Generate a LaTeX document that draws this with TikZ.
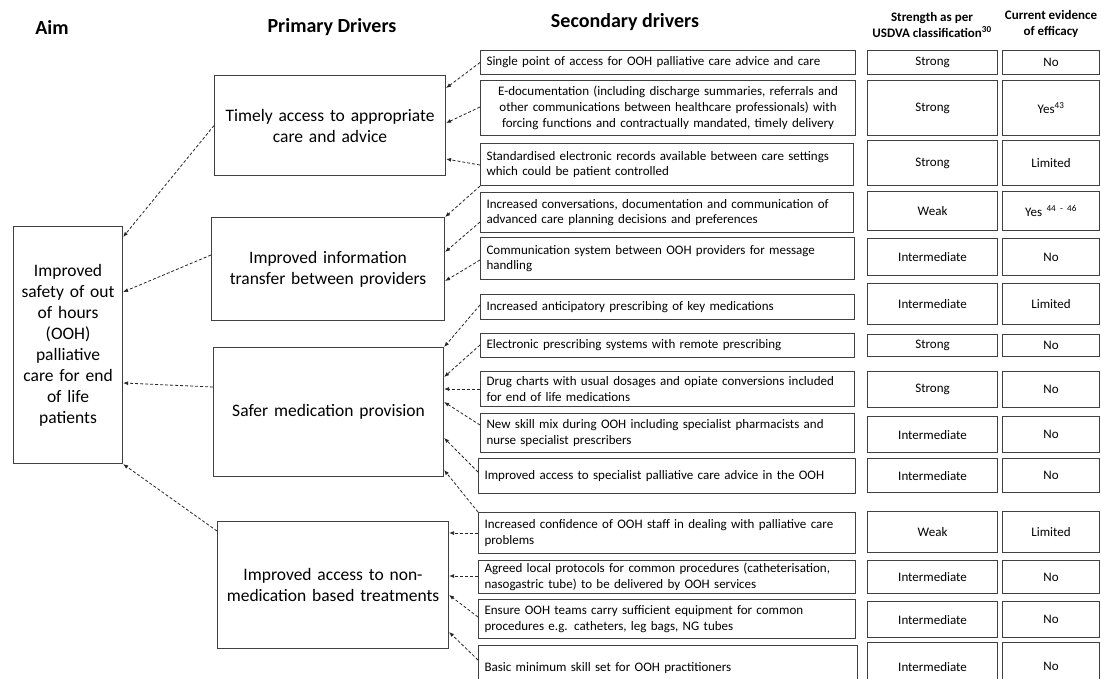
\documentclass[tikz,border=0pt]{standalone}
\usepackage{fontspec}
\setmainfont{Carlito}
\usetikzlibrary{arrows.meta}
\tikzset{
  bx/.style={draw=black!75, line width=1.1pt, rectangle, inner xsep=6pt, inner ysep=0pt, anchor=north west, font=\fontsize{13}{15.9}\selectfont},
  pbx/.style={bx, align=center, font=\fontsize{17.5}{21}\selectfont},
  sbx/.style={bx, align=left},
  cbx/.style={bx, align=center},
  hdr/.style={font=\fontsize{20}{24}\selectfont\bfseries, inner sep=0pt},
  shdr/.style={font=\fontsize{13}{15.5}\selectfont\bfseries, inner sep=0pt, align=center},
  conn/.style={draw=black!85, line width=0.8pt, dash pattern=on 3pt off 2pt, -{Latex[length=5pt,width=4pt]}},
}
\newcommand\mkbox[7]{%
  \pgfmathsetmacro\bw{#5-#3}%
  \pgfmathsetmacro\bh{#6-#4}%
  \pgfmathsetmacro\tw{#5-#3-12}%
  \node[#1, minimum width=\bw pt, minimum height=\bh pt, text width=\tw pt] (#2) at (#3,#4) {#7};}
\begin{document}
\begin{tikzpicture}[x=1pt,y=-1pt]
\useasboundingbox (0,0) rectangle (1101,678);
\clip (0,0) rectangle (1101,678);
% headers
\node[hdr] (hAim) at (52,27) {Aim};
\node[hdr] (hPri) at (332,27) {Primary Drivers};
\node[hdr] (hSec) at (625,22) {Secondary drivers};
\node[shdr] (hStr) at (932,25) {Strength as per\\USDVA classification\textsuperscript{30}};
\node[shdr] (hEv) at (1051,24) {Current evidence\\of efficacy};
% aim
\mkbox{pbx}{aim}{13}{226}{122}{463}{Improved\\safety of out\\of hours\\(OOH)\\palliative\\care for end\\of life\\patients}
% primary
\mkbox{pbx}{p1}{214}{75}{445}{175}{Timely access to appropriate\\care and advice}
\mkbox{pbx}{p2}{211}{217}{444}{320}{Improved information\\transfer between providers}
\mkbox{pbx}{p3}{213}{347}{443}{476}{Safer medication provision}
\mkbox{pbx}{p4}{217}{521}{448}{648}{Improved access to non-\\medication based treatments}
% secondary
\mkbox{sbx}{s1}{480}{50}{855}{74}{Single point of access for OOH palliative care advice and care}
\mkbox{cbx}{s2}{480}{80}{855}{135}{E-documentation (including discharge summaries, referrals and\\other communications between healthcare professionals) with\\forcing functions and contractually mandated, timely delivery}
\mkbox{sbx}{s3}{480}{143}{853}{185}{Standardised electronic records available between care settings\\which could be patient controlled}
\mkbox{sbx}{s4}{480}{192}{853}{232}{Increased conversations, documentation and communication of\\advanced care planning decisions and preferences}
\mkbox{sbx}{s5}{480}{237}{854}{279}{Communication system between OOH providers for message\\handling}
\mkbox{sbx}{s6}{480}{294}{854}{319}{Increased anticipatory prescribing of key medications}
\mkbox{sbx}{s7}{480}{333}{854}{357}{Electronic prescribing systems with remote prescribing}
\mkbox{sbx}{s8}{480}{371}{854}{406}{Drug charts with usual dosages and opiate conversions included\\for end of life medications}
\mkbox{sbx}{s9}{480}{413}{854}{452}{New skill mix during OOH including specialist pharmacists and\\nurse specialist prescribers}
\mkbox{sbx}{s10}{478}{458}{855}{493}{Improved access to specialist palliative care advice in the OOH}
\mkbox{sbx}{s11}{478}{512}{855}{553}{Increased confidence of OOH staff in dealing with palliative care\\problems}
\mkbox{sbx}{s12}{478}{560}{855}{593}{Agreed local protocols for common procedures (catheterisation,\\nasogastric tube) to be delivered by OOH services}
\mkbox{sbx}{s13}{478}{599}{855}{638}{Ensure OOH teams carry sufficient equipment for common\\procedures e.g. catheters, leg bags, NG tubes}
\mkbox{sbx}{s14}{478}{645}{857}{690}{Basic minimum skill set for OOH practitioners}
% strength
\mkbox{cbx}{r1}{867}{50}{997}{74}{Strong}
\mkbox{cbx}{r2}{867}{80}{997}{135}{Strong}
\mkbox{cbx}{r3}{867}{140}{997}{185}{Strong}
\mkbox{cbx}{r4}{867}{191}{997}{230}{Weak}
\mkbox{cbx}{r5}{867}{238}{997}{275}{Intermediate}
\mkbox{cbx}{r6}{867}{283}{997}{324}{Intermediate}
\mkbox{cbx}{r7}{867}{334}{997}{356}{Strong}
\mkbox{cbx}{r8}{867}{371}{997}{407}{Strong}
\mkbox{cbx}{r9}{867}{416}{997}{452}{Intermediate}
\mkbox{cbx}{r10}{867}{458}{997}{492}{Intermediate}
\mkbox{cbx}{r11}{867}{511}{997}{552}{Weak}
\mkbox{cbx}{r12}{867}{560}{997}{593}{Intermediate}
\mkbox{cbx}{r13}{867}{601}{997}{637}{Intermediate}
\mkbox{cbx}{r14}{867}{642}{997}{690}{Intermediate}
% evidence
\mkbox{cbx}{e1}{1002}{50}{1099}{74}{No}
\mkbox{cbx}{e2}{1002}{80}{1099}{135}{Yes\textsuperscript{43}}
\mkbox{cbx}{e3}{1002}{140}{1099}{185}{Limited}
\mkbox{cbx}{e4}{1002}{191}{1099}{230}{Yes \textsuperscript{44 - 46}}
\mkbox{cbx}{e5}{1002}{238}{1099}{275}{No}
\mkbox{cbx}{e6}{1002}{283}{1099}{324}{Limited}
\mkbox{cbx}{e7}{1002}{334}{1099}{356}{No}
\mkbox{cbx}{e8}{1002}{371}{1099}{407}{No}
\mkbox{cbx}{e9}{1002}{416}{1099}{452}{No}
\mkbox{cbx}{e10}{1002}{458}{1099}{492}{No}
\mkbox{cbx}{e11}{1002}{511}{1099}{552}{Limited}
\mkbox{cbx}{e12}{1002}{560}{1099}{593}{No}
\mkbox{cbx}{e13}{1002}{601}{1099}{637}{No}
\mkbox{cbx}{e14}{1002}{642}{1099}{690}{No}
% secondary -> primary
\draw[conn] (s1.west) -- (p1.east |- 0,88);
\draw[conn] (s2.west |- 0,107) -- (p1.east |- 0,123);
\draw[conn] (s3.west |- 0,165) -- (p1.east |- 0,159);
\draw[conn] (s3.south west) -- (p2.north east);
\draw[conn] (s4.west |- 0,222) -- (p2.east |- 0,252);
\draw[conn] (s5.west |- 0,260) -- (p2.east |- 0,281);
\draw[conn] (s6.west |- 0,305) -- (p3.north east);
\draw[conn] (s7.west |- 0,345) -- (p3.east |- 0,377);
\draw[conn] (s8.west |- 0,389) -- (p3.east |- 0,389);
\draw[conn] (s9.west |- 0,425) -- (p3.east |- 0,402);
\draw[conn] (s10.west |- 0,472) -- (p3.east |- 0,438);
\draw[conn] (s11.north west) -- (p3.east |- 0,470);
\draw[conn] (s11.west |- 0,533) -- (p4.east |- 0,533);
\draw[conn] (s12.west |- 0,576) -- (p4.east |- 0,576);
\draw[conn] (s13.west |- 0,617) -- (p4.east |- 0,595);
\draw[conn] (s14.west |- 0,660) -- (p4.east |- 0,632);
% primary -> aim
\draw[conn] (p1.west) -- (aim.east |- 0,237);
\draw[conn] (p2.west |- 0,255) -- (aim.east |- 0,292);
\draw[conn] (p3.west |- 0,387) -- (aim.east |- 0,383);
\draw[conn] (p4.west |- 0,531) -- (aim.south east);
\end{tikzpicture}
\end{document}
